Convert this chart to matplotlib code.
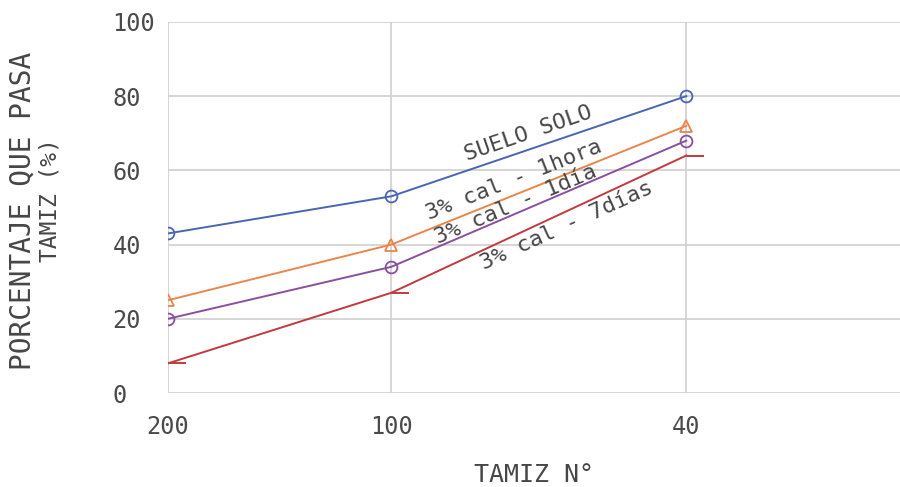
import numpy as np
import matplotlib.pyplot as plt
from matplotlib.path import Path

###DATA###
tamiz = [200, 100, 40]
suelo_solo = [43, 53, 80]
cal_1hora = [25, 40, 72]
cal_1dia = [20, 34, 68]
cal_7dias = [8, 27, 64]
yticks = [0, 20, 40, 60, 80, 100]

c_blue = '#4a66b2'
c_orange = '#e8864c'
c_purple = '#8b4f9f'
c_red = '#c23a3f'
txt = '#464646'
mono = 'DejaVu Sans Mono'

# half dash marker, from the point to the right
half_dash = Path([(0, 0), (1, 0)], [Path.MOVETO, Path.LINETO])

##### PLOT #####
fig = plt.figure(figsize=(9, 4.87), dpi=100)
ax = fig.add_axes([0.1867, 0.193, 0.8133, 0.762])

ax.plot(tamiz, suelo_solo, color=c_blue, lw=1.4, marker='o', ms=8.5, mfc='none', mew=1.3)
ax.plot(tamiz, cal_1hora, color=c_orange, lw=1.4, marker='^', ms=8.5, mfc='none', mew=1.3)
ax.plot(tamiz, cal_1dia, color=c_purple, lw=1.4, marker='o', ms=8.5, mfc='none', mew=1.3)
ax.plot(tamiz, cal_7dias, color=c_red, lw=1.4, marker=half_dash, ms=26, mew=1.4)

ax.set_xscale('log')
ax.set_xlim(200, 20.6)
ax.set_ylim(0, 100)

ax.set_xticks(tamiz, labels=[str(t) for t in tamiz])
ax.xaxis.set_minor_locator(plt.NullLocator())
ax.set_yticks(yticks, labels=[str(t) for t in yticks])

ax.grid(True, color='#d0d0d0', lw=1.2)
ax.set_axisbelow(True)
for s in ax.spines.values():
    s.set_visible(False)

ax.tick_params(axis='both', length=0, labelsize=17, labelcolor='#4a4a4a')
ax.tick_params(axis='y', pad=40)
ax.tick_params(axis='x', pad=16)
for lab in ax.get_xticklabels() + ax.get_yticklabels():
    lab.set_family(mono)
for lab in ax.get_yticklabels():
    lab.set_ha('left')

ax.set_xlabel('TAMIZ N°', fontsize=18, color=txt, family=mono, va='center')
ax.xaxis.set_label_coords(0.5, -0.221)
fig.text(0.0256, 0.567, 'PORCENTAJE QUE PASA', rotation=90, fontsize=20, color=txt,
         family=mono, ha='center', va='center')
fig.text(0.0556, 0.589, 'TAMIZ (%)', rotation=90, fontsize=16.5, color=txt,
         family=mono, ha='center', va='center')

# line labels
ax.text(65.4, 70, 'SUELO SOLO', rotation=19, fontsize=16, color=txt, family=mono,
        ha='center', va='center')
ax.text(68.3, 57.4, '3% cal - 1hora', rotation=21.5, fontsize=16, color=txt, family=mono,
        ha='center', va='center')
ax.text(68, 50.7, '3% cal - 1día', rotation=23, fontsize=16, color=txt, family=mono,
        ha='center', va='center')
ax.text(58, 45, '3% cal - 7días', rotation=24.5, fontsize=16, color=txt, family=mono,
        ha='center', va='center')

plt.savefig('out.png', dpi=100)
